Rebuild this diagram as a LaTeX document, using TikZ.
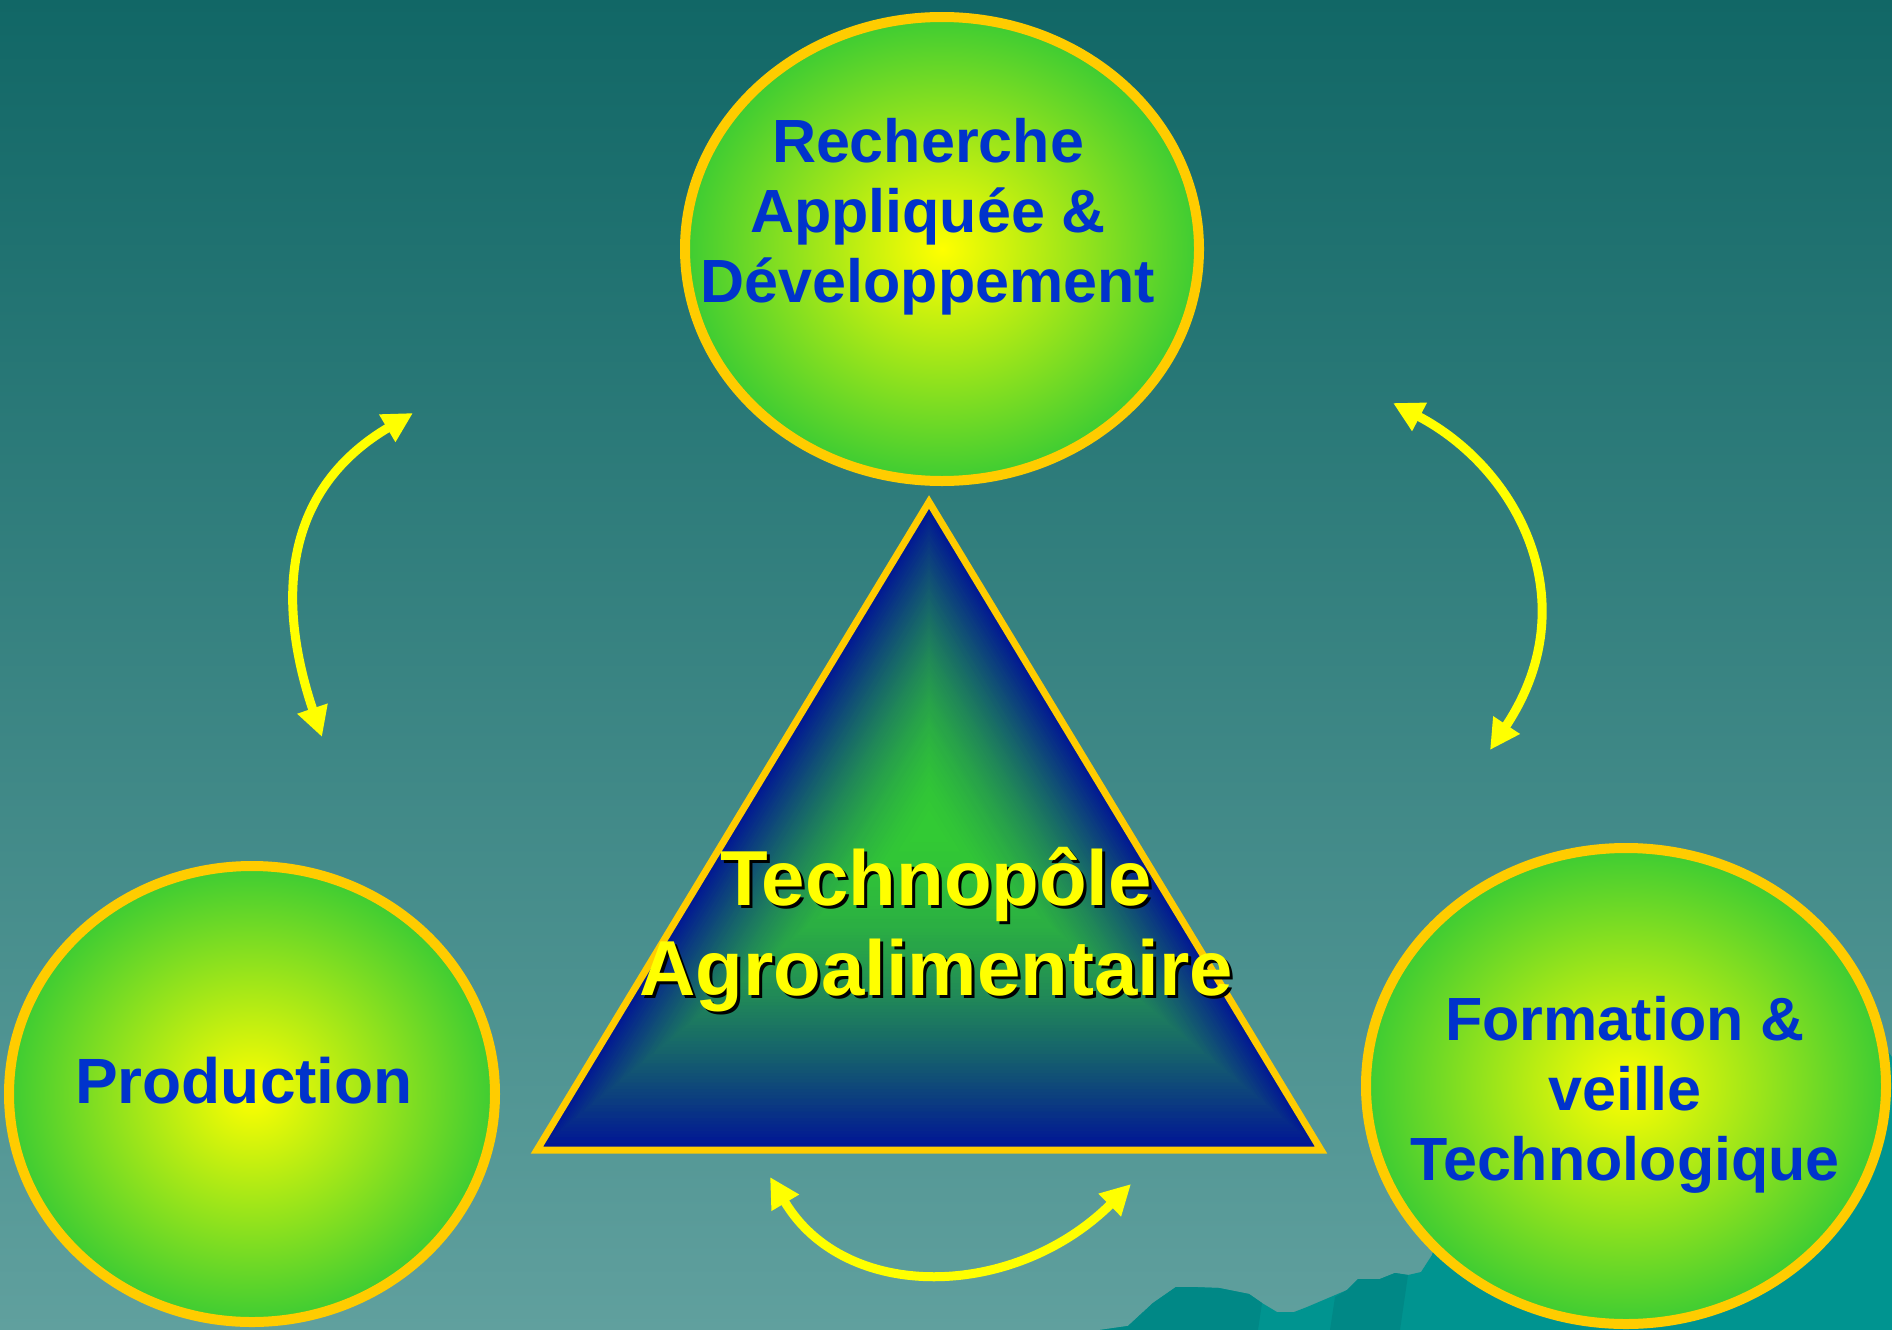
\documentclass[tikz,border=0pt]{standalone}
\usepackage{fontspec}
\setmainfont{Liberation Sans}
\usetikzlibrary{shapes.geometric,arrows.meta,calc}
\definecolor{bgtop}{RGB}{17,103,102}
\definecolor{bgbot}{RGB}{96,160,158}
\definecolor{ringgold}{RGB}{255,204,0}
\definecolor{ballyel}{RGB}{255,255,0}
\definecolor{ballgrn}{RGB}{61,204,51}
\definecolor{txtblue}{RGB}{0,51,204}
\definecolor{tgreen}{RGB}{51,204,51}
\definecolor{tblue}{RGB}{0,20,150}
\definecolor{arrowyel}{RGB}{255,255,0}
\definecolor{mtdark}{RGB}{0,136,134}
\definecolor{mtlight}{RGB}{0,148,144}
\begin{document}
\begin{tikzpicture}[x=1pt,y=-1pt,
  bubble/.style={ellipse, inner sep=0pt, outer sep=0pt, draw=ringgold, line width=10pt, inner color=ballyel, outer color=ballgrn},
  bluetxt/.style={anchor=base, text=txtblue, font=\bfseries\fontsize{61}{70}\selectfont, inner sep=0pt},
  tritxt/.style={anchor=base, text=ballyel, font=\bfseries\fontsize{78}{90}\selectfont, inner sep=0pt},
  trishadow/.style={tritxt, text=black},
  cycarrow/.style={draw=arrowyel, line width=9pt, >={Triangle[length=30pt,width=30pt]}, <->}
]
\useasboundingbox (0,0) rectangle (1892,1330);
% background
\shade[top color=bgtop, bottom color=bgbot] (0,0) rectangle (1892,1330);
% mountains
\fill[mtlight] (1100,1330) -- (1128,1326) -- (1153,1303) -- (1176,1287) -- (1191,1287) -- (1219,1288) -- (1249,1294) -- (1262,1303) -- (1277,1312) -- (1294,1312) -- (1307,1307) -- (1347,1290) -- (1358,1279) -- (1380,1279) -- (1395,1273) -- (1408,1275) -- (1421,1272) -- (1432,1255) -- (1460,1150) -- (1880,1040) -- (1892,1057) -- (1892,1330) -- cycle;
\fill[mtdark] (1100,1330) -- (1128,1326) -- (1153,1303) -- (1176,1287) -- (1191,1287) -- (1219,1288) -- (1249,1294) -- (1262,1303) -- (1258,1330) -- cycle;
\fill[mtdark] (1330,1330) -- (1335,1297) -- (1347,1290) -- (1358,1279) -- (1380,1279) -- (1395,1273) -- (1408,1275) -- (1400,1330) -- cycle;
% bubbles
\node[bubble, minimum width=514pt, minimum height=464pt] (bubR) at (942,249) {};
\node[bubble, minimum width=486pt, minimum height=456pt] (bubP) at (252,1094) {};
\node[bubble, minimum width=520pt, minimum height=476pt] (bubF) at (1626,1086) {};
% triangle
\coordinate (tA) at (929,502);
\coordinate (tR) at (1321,1150);
\coordinate (tL) at (537,1150);
\coordinate (gc) at (929,826);
\foreach \i in {0,...,100}{
  \pgfmathsetmacro{\s}{1-\i/101}
  \pgfmathtruncatemacro{\p}{100*(1-(\s)^1.6)}
  \fill[tgreen!\p!tblue] ($(gc)!\s!(tA)$) -- ($(gc)!\s!(tR)$) -- ($(gc)!\s!(tL)$) -- cycle;
}
\draw[ringgold, line width=7pt, line join=miter] (tA) -- (tR) -- (tL) -- cycle;
% arrows
\coordinate (la1) at (322,737);
\coordinate (la2) at (413,413);
\coordinate (ra1) at (1393,403);
\coordinate (ra2) at (1490,750);
\coordinate (ba1) at (770,1177);
\coordinate (ba2) at (1131,1184);
\draw[cycarrow] (la1) .. controls (286,630) and (266,500) .. (la2);
\draw[cycarrow] (ra1) .. controls (1517,468) and (1589,601) .. (ra2);
\draw[cycarrow] (ba1) .. controls (845,1303) and (1014,1300) .. (ba2);
% texts
\node[bluetxt] (rech1) at (928,162) {Recherche};
\node[bluetxt] (rech2) at (928,232) {Appliquée \&};
\node[bluetxt] (rech3) at (928,302) {Développement};
\node[bluetxt] (form1) at (1625,1040) {Formation \&};
\node[bluetxt] (form2) at (1625,1110) {veille};
\node[bluetxt] (form3) at (1625,1180) {Technologique};
\node[bluetxt, font=\bfseries\fontsize{64}{75}\selectfont] (prodtxt) at (244,1103) {Production};
\node[trishadow] (tech1s) at (939,908) {Technopôle};
\node[tritxt] (tech1) at (936,905) {Technopôle};
\node[trishadow] (tech2s) at (939,998) {Agroalimentaire};
\node[tritxt] (tech2) at (936,995) {Agroalimentaire};
\end{tikzpicture}
\end{document}
